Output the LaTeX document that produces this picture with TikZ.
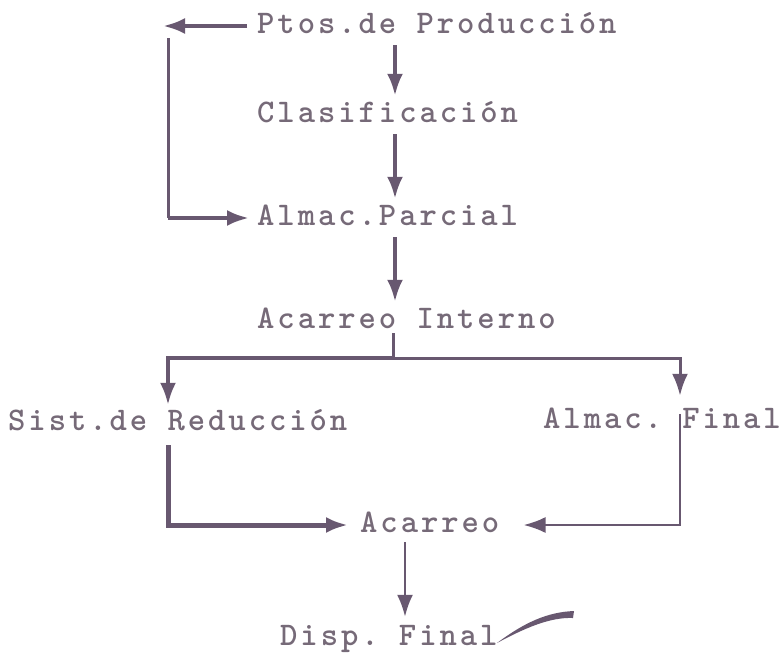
\documentclass[tikz,border=0pt]{standalone}
\usepackage{fontspec}
\setmonofont[LetterSpace=9]{lmmonolt10-bold.otf}
\usetikzlibrary{arrows.meta}

\definecolor{ink}{RGB}{118,106,120}
\definecolor{pen}{RGB}{104,88,112}

\begin{document}
\begin{tikzpicture}[x=1pt,y=-1pt,
  lbl/.style={anchor=base west,inner sep=0pt,text height=14pt,text depth=0pt,
    text=ink,font=\ttfamily\fontsize{33pt}{36pt}\selectfont},
  arr/.style={-{Latex[length=22pt,width=16pt]},draw=pen,line width=4pt}]

\useasboundingbox (0,0) rectangle (784,657);

% The labels, set on their base lines
\node [lbl] (ptos)    at (257,33)  {Ptos.de Producción};
\node [lbl] (clasif)  at (257,122) {Clasificación};
\node [lbl] (parcial) at (257,225) {Almac.Parcial};
\node [lbl] (interno) at (257,328) {Acarreo Interno};
\node [lbl] (sist)    at (8,430)   {Sist.de Reducción};
\node [lbl] (afinal)  at (543,428) {Almac. Final};
\node [lbl] (acarreo) at (360,532) {Acarreo};
\node [lbl] (disp)    at (280,645) {Disp. Final};

% Columns the connectors run along
\coordinate (col)  at (395,0);
\coordinate (lcol) at (168,0);
\coordinate (rcol) at (680,0);
\coordinate (dcol) at (405,0);
\coordinate (split) at (393,358);

% Main column
\foreach \a/\b in {ptos/clasif, clasif/parcial, parcial/interno} {
  \draw [arr,shorten <=12pt,shorten >=12pt] (col |- \a.south) -- (col |- \b.north);
}

% Bypass from Ptos to Almac. Parcial
\draw [arr,shorten <=10pt] (ptos.west) -- (163,0 |- ptos.west);
\draw [pen,line width=3pt,shorten <=12pt] (lcol |- ptos.west) -- (lcol |- parcial.west);
\draw [arr,shorten >=8pt] (lcol |- parcial.west) -- (parcial.west);

% The split below Acarreo Interno
\draw [pen,line width=3pt,shorten <=5pt] (split |- interno.south) -- (split);
\draw [arr,line width=3.5pt,shorten >=11pt] (split) -| (lcol |- sist.north);
\draw [arr,line width=3pt,shorten >=18pt] (split) -| (rcol |- afinal.north);
\draw [arr,line width=2.5pt,shorten >=24pt] (rcol |- afinal.north) |- (acarreo.east);

% From Sist. de Reduccion to Acarreo
\draw [arr,line width=5pt,shorten <=15pt,shorten >=12pt] (lcol |- sist.south) |- (acarreo.west);

% Last step
\draw [arr,line width=2.5pt,shorten <=10pt,shorten >=14pt] (dcol |- acarreo.south) -- (dcol |- disp.north);

% Pen stroke after Final
\fill [pen] (497,643) .. controls (525,622) and (548,612) .. (574,611)
  -- (573,618) .. controls (550,617) and (525,628) .. (497,643) -- cycle;

\end{tikzpicture}
\end{document}
